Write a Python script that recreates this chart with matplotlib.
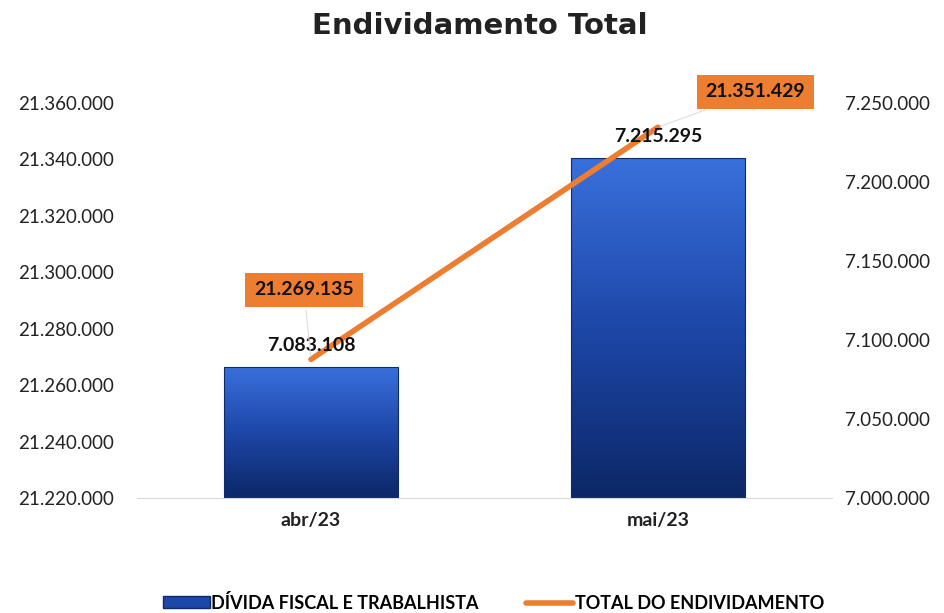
import numpy as np
import matplotlib
matplotlib.use("Agg")
import matplotlib.pyplot as plt
from matplotlib.patches import Patch
from matplotlib.lines import Line2D

plt.rcParams['font.family'] = ['Lato', 'DejaVu Sans']

# dados
meses = ["abr/23", "mai/23"]
divida_fiscal = [7083108, 7215295]
total_endividamento = [21269135, 21351429]
ticks_esq = [21220000, 21240000, 21260000, 21280000, 21300000, 21320000, 21340000, 21360000]
ticks_dir = [7000000, 7050000, 7100000, 7150000, 7200000, 7250000]


def fmt(v):
    return f"{v:,.0f}".replace(",", ".")


fig = plt.figure(figsize=(9.45, 6.13), dpi=100)
ax = fig.add_axes([0.1455, 0.1876, 0.7344, 0.6444])
ax2 = ax.twinx()

x = np.arange(len(meses))
largura = 0.5

# barras com gradiente (eixo direito)
ax2.set_ylim(7000000, 7250000)
ax2.set_xlim(-0.5, 1.5)
grad = np.linspace(0, 1, 256).reshape(-1, 1)
cmap = matplotlib.colors.LinearSegmentedColormap.from_list("azul", ["#0b2766", "#1d47a8", "#3a70dc"])
for xi, v in zip(x, divida_fiscal):
    bar = ax2.bar(xi, v, width=largura, color="none", edgecolor="#0d2a6b", linewidth=0.8, zorder=3)[0]
    im = ax2.imshow(grad, extent=[xi - largura / 2, xi + largura / 2, 7000000, v],
                    aspect="auto", cmap=cmap, origin="lower", zorder=2)
    im.set_clip_path(bar)

# linha (eixo esquerdo)
ax.set_zorder(ax2.get_zorder() + 1)
ax.patch.set_visible(False)
ax.set_ylim(21220000, 21360000)
ax.set_xlim(-0.5, 1.5)
ax.plot(x, total_endividamento, color="#ed7d31", linewidth=4, solid_capstyle="round", zorder=4)

# rótulos das barras por cima da linha
for xi, v in zip(x, divida_fiscal):
    ax.text(xi, v + 8000, fmt(v), transform=ax2.transData, ha="center", va="bottom",
            fontsize=14, fontweight="bold", color="#111111", zorder=5)

offsets = [(-0.02, 24600), (0.28, 12500)]
for xi, v, (dx, dy) in zip(x, total_endividamento, offsets):
    ax.annotate(fmt(v), xy=(xi, v), xytext=(xi + dx, v + dy),
                ha="center", va="center", fontsize=14, fontweight="bold", color="#111111",
                bbox=dict(boxstyle="square,pad=0.45", fc="#ed7d31", ec="none"),
                arrowprops=dict(arrowstyle="-", color="#dddddd", lw=0.8), zorder=6)

ax.set_yticks(ticks_esq)
ax.set_yticklabels([fmt(t) for t in ticks_esq])
ax2.set_yticks(ticks_dir)
ax2.set_yticklabels([fmt(t) for t in ticks_dir])
ax.set_xticks(x)
ax.set_xticklabels(meses, fontweight="bold", fontsize=14)

for a in (ax, ax2):
    for s in a.spines.values():
        s.set_visible(False)
    a.tick_params(length=0, labelsize=13.5, colors="#222222")
ax.tick_params(axis="x", labelsize=14)
ax.tick_params(axis="y", pad=17)
ax2.tick_params(axis="y", pad=10)
ax.tick_params(axis="x", pad=10)
ax.spines["bottom"].set_visible(True)
ax.spines["bottom"].set_color("#d9d9d9")

fig.text(0.508, 0.958, "Endividamento Total", ha="center", va="center",
         fontsize=21, fontweight="bold", color="#222222", family="DejaVu Sans")

handles = [Patch(facecolor="#1d47a8", edgecolor="#0d2a6b"),
           Line2D([0], [0], color="#ed7d31", lw=4, solid_capstyle="round")]
fig.legend(handles, ["DÍVIDA FISCAL E TRABALHISTA", "TOTAL DO ENDIVIDAMENTO"],
           loc="center", bbox_to_anchor=(0.522, 0.017), ncol=2, frameon=False,
           prop={"weight": "bold", "size": 13}, handlelength=2.6, handleheight=0.6,
           handletextpad=0.1, columnspacing=2.6)

fig.savefig("out.png", dpi=100)
